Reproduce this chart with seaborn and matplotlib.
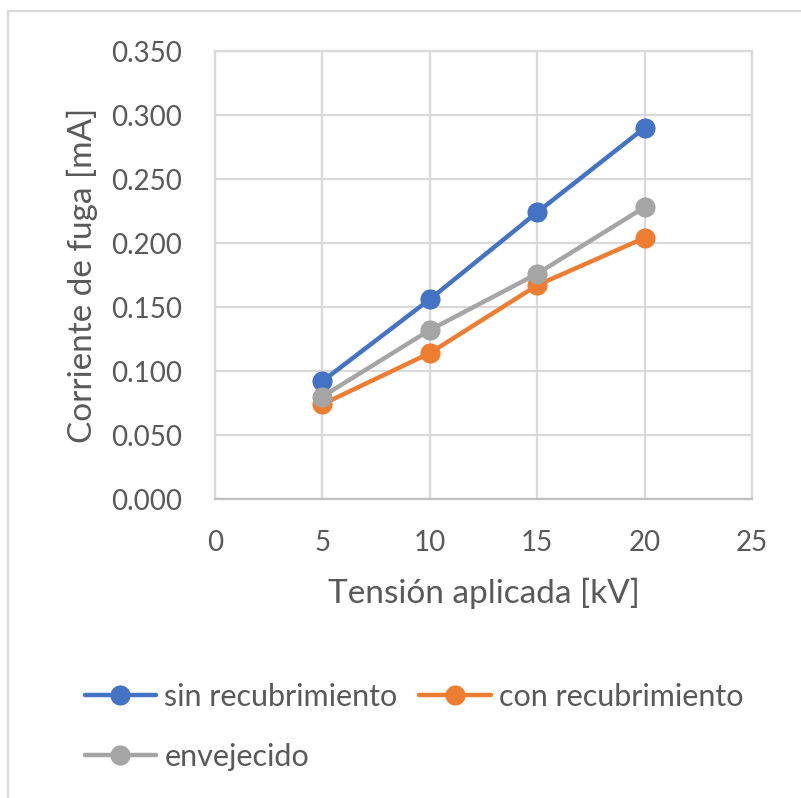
import matplotlib
matplotlib.use("Agg")
import matplotlib.pyplot as plt
import seaborn as sns
import pandas as pd
from matplotlib.lines import Line2D
from matplotlib.ticker import FormatStrFormatter

# Leakage current vs. applied voltage for three insulator conditions
voltage_kv = [5, 10, 15, 20]
sin_recubrimiento = [0.092, 0.156, 0.224, 0.290]
con_recubrimiento = [0.074, 0.114, 0.167, 0.204]
envejecido = [0.080, 0.132, 0.176, 0.228]
series_names = ["sin recubrimiento", "con recubrimiento", "envejecido"]
colors = ["#4472C4", "#ED7D31", "#A5A5A5"]
x_ticks = [0, 5, 10, 15, 20, 25]
y_ticks = [0.0, 0.05, 0.10, 0.15, 0.20, 0.25, 0.30, 0.35]

df = pd.DataFrame({
    "Tensión": voltage_kv * 3,
    "Corriente": sin_recubrimiento + con_recubrimiento + envejecido,
    "Serie": [s for s in series_names for _ in voltage_kv],
})

sns.set_theme(style="white")
plt.rcParams["font.family"] = ["Lato", "DejaVu Sans"]
text_color = "#595959"
grid_color = "#D9D9D9"

fig = plt.figure(figsize=(8.01, 7.98), dpi=100)
ax = fig.add_axes([215 / 801, 1 - 499 / 798, (752 - 215) / 801, (499 - 51) / 798])

sns.lineplot(data=df, x="Tensión", y="Corriente", hue="Serie",
             hue_order=series_names, palette=colors, marker="o",
             markersize=14.5, markeredgewidth=0, linewidth=3.2, ax=ax,
             legend=False, zorder=3)

ax.set_xlim(0, 25)
ax.set_ylim(0, 0.35)
ax.set_xticks(x_ticks)
ax.set_yticks(y_ticks)
ax.yaxis.set_major_formatter(FormatStrFormatter("%.3f"))
ax.grid(True, color=grid_color, linewidth=1.6)
ax.set_axisbelow(True)
for side, sp in ax.spines.items():
    sp.set_visible(True)
    sp.set_color(grid_color)
    sp.set_linewidth(1.6)
ax.spines["bottom"].set_color("#BFBFBF")
ax.tick_params(axis="both", length=0, labelsize=20, colors=text_color)
ax.tick_params(axis="y", pad=24)
ax.tick_params(axis="x", pad=22)
ax.set_xlabel("Tensión aplicada [kV]", fontsize=24, color=text_color, labelpad=16)
ax.set_ylabel("Corriente de fuga [mA]", fontsize=24, color=text_color, labelpad=9)

# legend laid out row by row: first row holds the first two series
handles = {name: Line2D([], [], color=c, linewidth=3.2, marker="o",
                        markersize=14.5, markeredgewidth=0)
           for name, c in zip(series_names, colors)}
legend_order = [series_names[0], series_names[2], series_names[1]]
fig.legend([handles[n] for n in legend_order], legend_order, loc="upper left",
           ncol=2, frameon=False, bbox_to_anchor=(57 / 801, 1 - 655 / 798),
           fontsize=22, handlelength=2.35, handletextpad=0.26,
           columnspacing=0.7, labelspacing=1.05, labelcolor=text_color)

# chart-area border on the left and top
fig.add_artist(Line2D([8 / 801, 8 / 801], [0, 1 - 11 / 798], color=grid_color,
                      linewidth=1.6, transform=fig.transFigure))
fig.add_artist(Line2D([8 / 801, 1], [1 - 11 / 798, 1 - 11 / 798], color=grid_color,
                      linewidth=1.6, transform=fig.transFigure))

fig.savefig("out.png", dpi=100)
